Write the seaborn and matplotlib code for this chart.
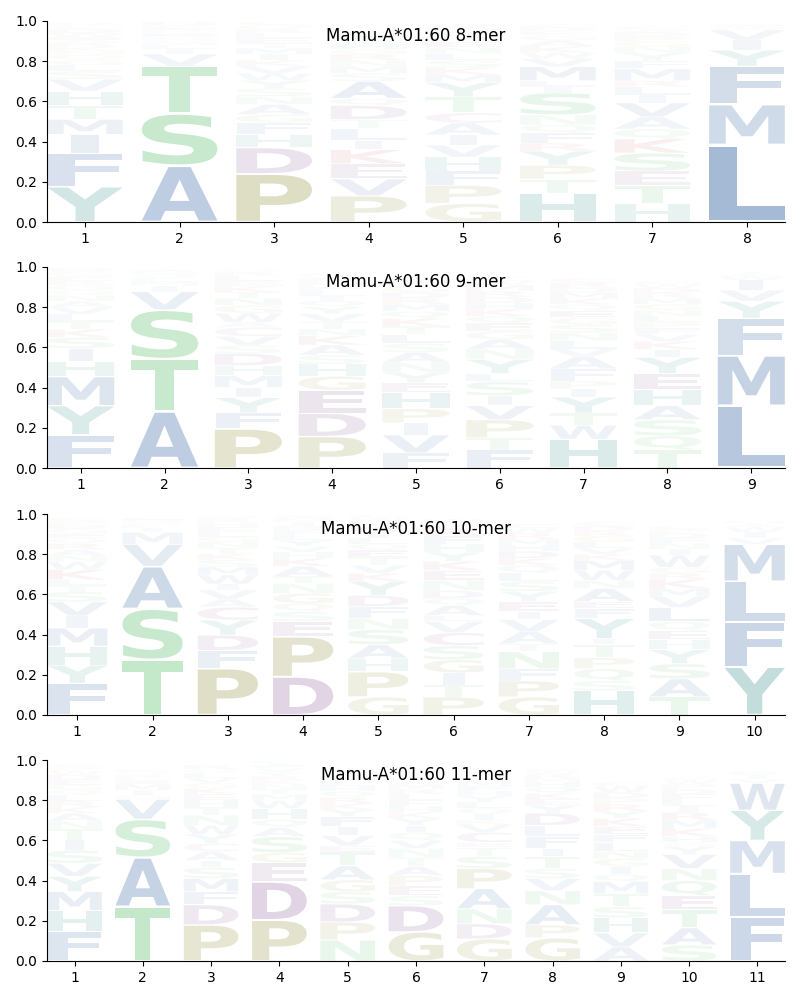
import matplotlib
matplotlib.use("Agg")
import matplotlib.pyplot as plt
import seaborn as sns
import numpy as np
from matplotlib.textpath import TextPath
from matplotlib.patches import PathPatch
from matplotlib.font_manager import FontProperties
from matplotlib.transforms import Affine2D

# ---------------- data: letters bottom -> top, with frequencies ----------------
allele = "Mamu-A*01:60"

letters_8 = [
    "YFIMTHVSLGQNKRAEWDCP",
    "ASTVILMQGNERKFCPDHY",
    "PDHFGANSYWVKIMTELRQC",
    "PVEKILTDQASMNRGHYFWC",
    "GPFHVIACTYMKSLNERQDW",
    "HTPYRFQNSILMVWKAGEDC",
    "HTESKQAVILRMFYNGPDWC",
    "LMFYIVWATS",
]
heights_8 = [
    [.176, .165, .095, .075, .07, .07, .06, .04, .03, .025, .025, .02, .02, .02, .015, .015, .02, .02, .015, .015],
    [.28, .26, .235, .06, .025, .02, .015, .012, .01, .01, .01, .008, .008, .01, .008, .008, .008, .006, .006],
    [.24, .13, .065, .06, .04, .05, .04, .04, .04, .035, .035, .03, .03, .03, .025, .025, .025, .02, .02, .015],
    [.13, .085, .075, .07, .045, .06, .045, .07, .035, .085, .04, .035, .03, .03, .025, .025, .02, .02, .015, .015],
    [.093, .09, .07, .07, .06, .05, .06, .05, .08, .07, .04, .035, .035, .035, .03, .03, .025, .025, .02, .015],
    [.143, .07, .07, .07, .04, .05, .04, .05, .11, .03, .03, .07, .04, .03, .03, .03, .025, .02, .02, .015],
    [.093, .09, .07, .09, .07, .05, .06, .07, .04, .04, .03, .06, .04, .04, .03, .025, .025, .02, .015, .015],
    [.385, .20, .19, .08, .05, .05, .01, .008, .005, .005],
]

letters_9 = [
    "FYMHISKTLVANQGREWPD",
    "ATSVIMLFQGNE",
    "PFYIMHDSVCAWGNTKELRQ",
    "PDEGHSAKNTVYQILFMRWC",
    "FVIPHEYNASLTKQMRDGWC",
    "FTPVISLYNAGEQKHDRMWC",
    "HWTYIPFAVLNSGEQKMDRC",
    "TQSAHEYIKVFPLNGMRDWC",
    "LMFYVIWAT",
]
heights_9 = [
    [.165, .145, .145, .075, .065, .055, .04, .04, .035, .035, .03, .03, .025, .025, .02, .02, .015, .015, .015],
    [.282, .26, .245, .09, .03, .02, .015, .01, .01, .008, .008, .008],
    [.195, .08, .075, .05, .06, .05, .06, .04, .045, .045, .025, .045, .04, .035, .03, .03, .025, .025, .02, .015],
    [.157, .115, .115, .07, .06, .045, .05, .045, .035, .035, .04, .035, .03, .025, .025, .02, .02, .02, .015, .01],
    [.075, .09, .06, .07, .08, .05, .05, .05, .05, .045, .045, .04, .04, .035, .035, .03, .03, .03, .025, .02],
    [.09, .06, .09, .07, .05, .07, .04, .07, .05, .05, .04, .04, .035, .035, .03, .03, .03, .03, .02, .02],
    [.143, .07, .06, .08, .04, .04, .06, .06, .04, .04, .04, .04, .035, .035, .03, .03, .03, .025, .025, .02],
    [.09, .07, .08, .07, .08, .08, .08, .04, .04, .035, .03, .03, .03, .03, .03, .03, .025, .025, .02, .015],
    [.31, .25, .185, .085, .055, .05, .02, .01, .01],
]

letters_10 = [
    "FYHMIVSTLKWNARQEGDPC",
    "TSAVMILGQNE",
    "PFDYCAVIWMSKTNGLEHRQ",
    "DPESQGNTAKHVYLFRIMWC",
    "GPHASNFDYKVTEQLIRMWC",
    "PTIGSCVLAQDNEKYHFRMW",
    "GPFNTAVIEYSLQKDHMRWC",
    "HSQPTIYFEANWMKVLGRDC",
    "TASYHEQLVMKRGWINFDPC",
    "YFLMVIWATH",
]
heights_10 = [
    [.158, .09, .095, .09, .06, .07, .05, .03, .03, .05, .04, .03, .03, .03, .025, .025, .025, .02, .02, .015],
    [.274, .255, .21, .11, .06, .02, .015, .01, .01, .008, .008],
    [.232, .09, .075, .075, .065, .04, .045, .03, .045, .04, .035, .03, .03, .03, .025, .025, .025, .02, .02, .015],
    [.19, .20, .075, .05, .04, .05, .05, .035, .05, .04, .03, .03, .03, .025, .025, .02, .02, .015, .01, .01],
    [.09, .125, .065, .07, .075, .055, .06, .055, .07, .04, .04, .04, .035, .03, .03, .03, .025, .025, .02, .015],
    [.09, .06, .06, .065, .07, .065, .055, .03, .05, .035, .04, .05, .05, .045, .045, .04, .04, .04, .025, .02],
    [.09, .08, .06, .085, .04, .06, .06, .04, .05, .05, .05, .04, .04, .035, .035, .03, .03, .03, .025, .02],
    [.12, .05, .06, .055, .065, .03, .10, .05, .035, .065, .04, .05, .05, .03, .03, .03, .03, .025, .025, .02],
    [.09, .09, .075, .07, .05, .045, .045, .07, .055, .04, .045, .03, .03, .06, .03, .03, .025, .025, .02, .015],
    [.24, .225, .20, .185, .03, .03, .025, .01, .01, .01],
]

letters_11 = [
    "FHMYVSITNAKRLQGEDWPC",
    "TASVGIMELRQNK",
    "PDFMSIACYWNTHEKGVLQR",
    "PDEGSAQHWMTNKRYVFIL",
    "NPDSGATEVIFYKRQHLMWC",
    "GDSEPATNVQIYKHFLRMWC",
    "GDNAPSTECVKIQLYHFMRW",
    "GPANVSTIFLDYEKQHMRWC",
    "AVHSTMQIGNLFEKYRPDWC",
    "SATEQNVYGHKMRILFDPWC",
    "FLMYWVIRK",
]
heights_11 = [
    [.146, .105, .095, .075, .065, .065, .05, .055, .04, .04, .03, .03, .03, .025, .025, .025, .025, .02, .02, .015],
    [.27, .245, .19, .10, .02, .025, .03, .015, .015, .015, .01, .01, .01],
    [.18, .10, .065, .065, .055, .035, .045, .04, .045, .045, .05, .04, .035, .03, .03, .025, .025, .025, .02, .02],
    [.204, .19, .095, .05, .08, .045, .04, .055, .04, .03, .025, .025, .02, .02, .02, .02, .015, .01, .01],
    [.104, .09, .09, .06, .06, .07, .07, .03, .05, .045, .05, .035, .03, .03, .03, .025, .025, .025, .02, .015],
    [.145, .13, .05, .05, .05, .045, .045, .045, .04, .04, .035, .035, .03, .03, .03, .03, .025, .025, .02, .015],
    [.11, .075, .075, .10, .10, .06, .045, .025, .05, .04, .02, .03, .03, .03, .03, .025, .025, .025, .02, .015],
    [.115, .065, .10, .07, .06, .05, .06, .04, .06, .055, .06, .04, .03, .03, .03, .025, .02, .02, .015, .01],
    [.07, .07, .075, .055, .065, .06, .035, .04, .04, .035, .045, .04, .04, .04, .035, .035, .03, .03, .03, .02],
    [.08, .085, .09, .07, .075, .06, .07, .04, .02, .03, .04, .04, .04, .03, .03, .03, .025, .025, .02, .015],
    [.22, .215, .165, .15, .135, .02, .02, .01, .01],
]

panels = [
    ("8-mer", letters_8, heights_8),
    ("9-mer", letters_9, heights_9),
    ("10-mer", letters_10, heights_10),
    ("11-mer", letters_11, heights_11),
]

# ---------------- colours ----------------
groups = {
    "AFILMVW": "#4d76ad",
    "STNQ": "#5cbf6c",
    "PG": "#969646",
    "DE": "#875393",
    "KR": "#c44e52",
    "HY": "#3d958e",
    "C": "#a85c8a",
}
aa_color = {}
for aas, col in groups.items():
    for a in aas:
        aa_color[a] = sns.color_palette([col])[0]

# ---------------- style ----------------
sns.set_style("ticks")
plt.rcParams["font.family"] = ["DejaVu Sans"]
plt.rcParams.update({
    "text.color": "black",
    "axes.edgecolor": "black",
    "axes.labelcolor": "black",
    "xtick.color": "black",
    "ytick.color": "black",
})

prop = FontProperties(family="DejaVu Sans", weight="bold")
_cache = {}


def glyph(c):
    if c not in _cache:
        p = TextPath((0, 0), c, size=1, prop=prop)
        _cache[c] = (p, p.get_extents())
    return _cache[c]


E_W = glyph("E")[1].width
WIDTH = 0.8
VPAD = 0.05


def draw_letter(ax, c, x, y0, h):
    p, ext = glyph(c)
    gh = h * (1 - VPAD)
    gy = y0 + h * VPAD / 2
    sx = min(WIDTH / ext.width, WIDTH / E_W)
    sy = gh / ext.height
    tr = (Affine2D()
          .translate(-ext.x0 - ext.width / 2, -ext.y0)
          .scale(sx, sy)
          .translate(x, gy))
    path = tr.transform_path(p)
    alpha = float(np.clip(1.3 * h, 0.02, 1.0))
    ax.add_patch(PathPatch(path, facecolor=aa_color[c], edgecolor="none",
                           alpha=alpha, lw=0))


fig = plt.figure(figsize=(8, 10), dpi=100)
bottoms = [0.778, 0.532, 0.285, 0.039]
for (name, letters, heights), b in zip(panels, bottoms):
    ax = fig.add_axes([0.059, b, 0.922, 0.201])
    n = len(letters)
    for i, (lets, hs) in enumerate(zip(letters, heights)):
        y = 0.0
        for c, h in zip(lets, hs):
            draw_letter(ax, c, i + 1, y, h)
            y += h
    ax.set_xlim(0.6, n + 0.4)
    ax.set_ylim(0, 1)
    ax.set_xticks(range(1, n + 1))
    ax.set_yticks(np.arange(0, 1.01, 0.2))
    ax.set_yticklabels([f"{v:.1f}" for v in np.arange(0, 1.01, 0.2)])
    ax.text(0.5, 0.925, f"{allele} {name}", transform=ax.transAxes,
            ha="center", va="center", fontsize=12, color="black")
    sns.despine(ax=ax)

fig.savefig("out.png", dpi=100)
